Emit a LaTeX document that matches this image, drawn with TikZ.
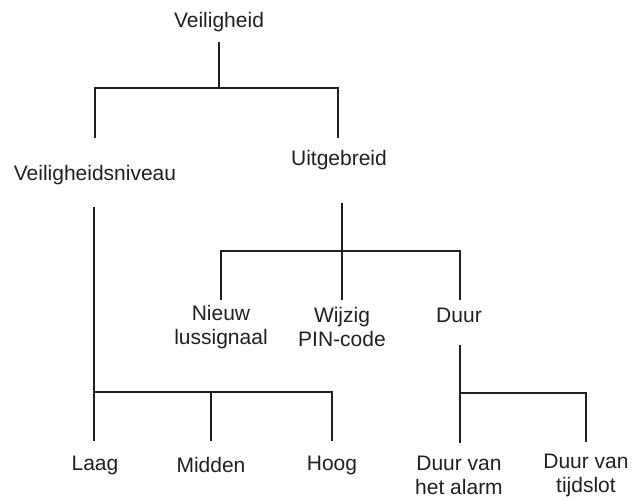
\documentclass[tikz,border=0pt]{standalone}
\usepackage{fontspec}
\setmainfont{Liberation Sans}
\definecolor{ink}{HTML}{231F20}
\begin{document}
\begin{tikzpicture}[x=1pt,y=-1pt,
  lbl/.style={font=\fontsize{21}{24}\selectfont, text=ink, align=center, inner sep=0pt},
  conn/.style={draw=ink, line width=2.5pt, line join=miter}]
\useasboundingbox (0,0) rectangle (633,499);
% text nodes
\node[lbl] (veil)   at (219,22)  {Veiligheid};
\node[lbl] (niveau) at (95,175)  {Veiligheidsniveau};
\node[lbl] (uitg)   at (339,160) {Uitgebreid};
\node[lbl] (nieuw)  at (221,327) {Nieuw\\lussignaal};
\node[lbl] (wijzig) at (342,327) {Wijzig\\PIN-code};
\node[lbl] (duur)   at (459,315) {Duur};
\node[lbl] (laag)   at (95,465)  {Laag};
\node[lbl] (midden) at (211,465) {Midden};
\node[lbl] (hoog)   at (332,465) {Hoog};
\node[lbl] (alarm)  at (459,475) {Duur van\\het alarm};
\node[lbl] (tijd)   at (586,475) {Duur van\\tijdslot};
% connector end points and junctions
\coordinate (veil-b)   at (219,42);
\coordinate (j1)       at (219,88);
\coordinate (niveau-t) at (95,138);
\coordinate (uitg-t)   at (338,138);
\coordinate (uitg-b)   at (342,203);
\coordinate (j2)       at (342,251);
\coordinate (nieuw-t)  at (221,300);
\coordinate (wijzig-t) at (342,300);
\coordinate (duur-t)   at (460,300);
\coordinate (niveau-b) at (94,207);
\coordinate (j3)       at (94,392);
\coordinate (laag-t)   at (94,441);
\coordinate (midden-j) at (211,392);
\coordinate (midden-t) at (211,441);
\coordinate (hoog-t)   at (332,441);
\coordinate (duur-b)   at (460,345);
\coordinate (j4)       at (460,393);
\coordinate (alarm-t)  at (460,443);
\coordinate (tijd-t)   at (586,442);
% connectors
\draw[conn] (veil-b) -- (j1);
\draw[conn] (niveau-t) |- (j1) -| (uitg-t);
\draw[conn] (uitg-b) -- (wijzig-t);
\draw[conn] (nieuw-t) |- (j2) -| (duur-t);
\draw[conn] (niveau-b) -- (laag-t);
\draw[conn] (j3) -| (hoog-t);
\draw[conn] (midden-j) -- (midden-t);
\draw[conn] (duur-b) -- (alarm-t);
\draw[conn] (j4) -| (tijd-t);
\end{tikzpicture}
\end{document}
